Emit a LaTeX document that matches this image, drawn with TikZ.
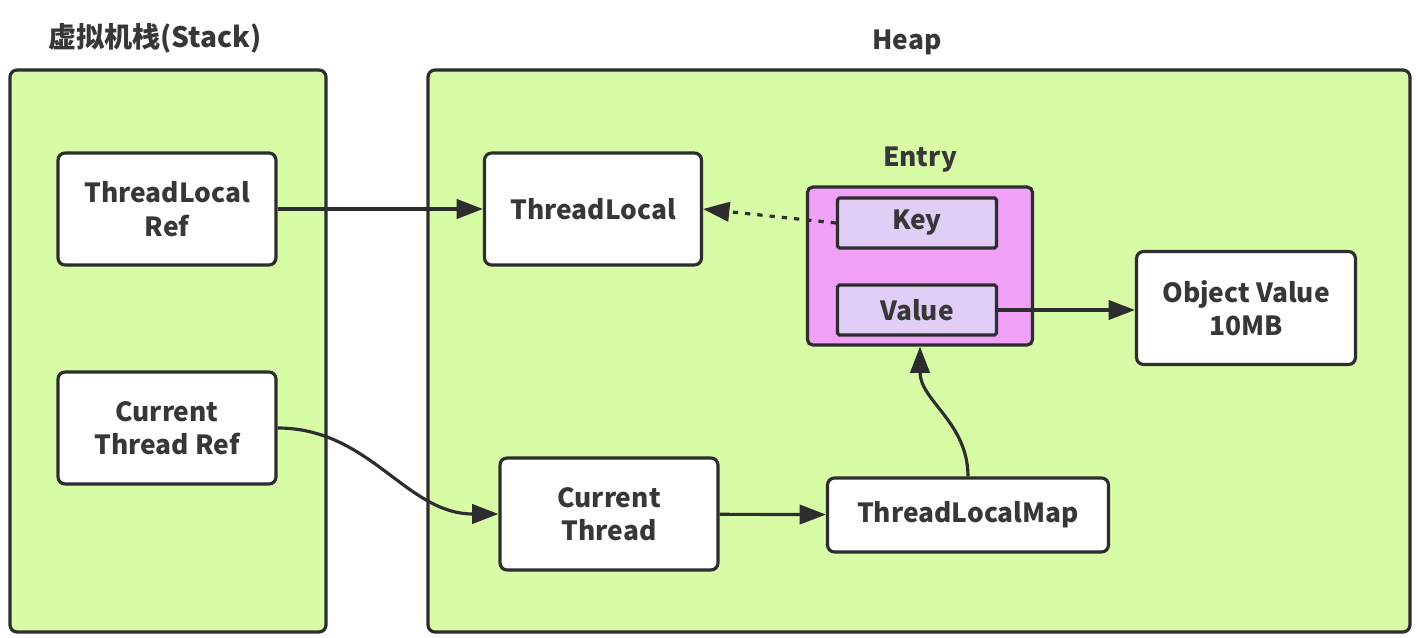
\documentclass[tikz,border=0pt]{standalone}
\usepackage{fontspec}
\setmainfont{Noto Sans CJK SC}
\usepackage{tikz}
\usetikzlibrary{positioning, shapes, arrows.meta}
\definecolor{AreaGreen}{RGB}{216, 251, 166}
\definecolor{EntryPink}{RGB}{240, 160, 246}
\definecolor{SlotLilac}{RGB}{224, 206, 246}
\definecolor{LineGray}{RGB}{45, 45, 45}
\definecolor{TextGray}{RGB}{55, 55, 55}

\tikzset{
  box/.style={draw=LineGray, line width=1.8pt, rounded corners=4pt, fill=white,
    align=center, inner sep=0pt, font=\fontsize{15}{19}\selectfont\bfseries, text=TextGray},
  slot/.style={box, rounded corners=1pt, fill=SlotLilac, minimum width=3.18cm, minimum height=1cm},
  title/.style={font=\fontsize{15}{18}\selectfont\bfseries, text=TextGray},
  link/.style={-{Triangle[length=15pt, width=11pt]}, line width=1.8pt, LineGray}
}

\begin{document}
\begin{tikzpicture}[x=0.02cm, y=-0.02cm]
    \useasboundingbox (0,0) rectangle (1418,638);

    % Stack area
    \node[title, font=\fontsize{16}{19}\selectfont\bfseries] (stacktitle) at (155,38) {虚拟机栈(Stack)};
    \draw[LineGray, line width=1.8pt, rounded corners=4pt, fill=AreaGreen] (10,70) rectangle (326,632);

    \node[box, minimum width=4.36cm, minimum height=2.24cm] (tlref) at (167,209) {ThreadLocal\\Ref};
    \node[box, minimum width=4.36cm, minimum height=2.24cm] (ctref) at (167,428) {Current\\Thread Ref};

    % Heap area
    \node[title] (heaptitle) at (907,42) {Heap};
    \draw[LineGray, line width=1.8pt, rounded corners=4pt, fill=AreaGreen] (428,70) rectangle (1410,632);

    \node[box, minimum width=4.34cm, minimum height=2.24cm] (tl) at (593,209) {ThreadLocal};
    \node[box, minimum width=4.36cm, minimum height=2.24cm] (ct) at (609,514) {Current\\Thread};
    \node[box, minimum width=5.62cm, minimum height=1.48cm] (tlmap) at (968,515) {ThreadLocalMap};
    \node[box, minimum width=4.38cm, minimum height=2.26cm] (obj) at (1246,308) {Object Value\\10MB};

    % Entry
    \node[title] (entrytitle) at (920,160) {Entry};
    \node[box, rounded corners=3pt, fill=EntryPink, minimum width=4.5cm, minimum height=3.16cm] (entry) at (920,266) {};
    \node[slot] (key) at (917,223) {Key};
    \node[slot] (value) at (917,310) {Value};

    % Links
    \draw[link] (tlref) -- (tl);
    \draw[link, dash pattern=on 3pt off 4pt] (key.west) -- (tl.east);
    \draw[link] (value.east) -- (value.east -| obj.west);
    \draw[link] (ctref.east) to[out=0, in=180] (ct.west);
    \draw[link] (ct) -- (tlmap);
    \draw[link] (tlmap.north) to[out=90, in=-90] (entry.south);
\end{tikzpicture}
\end{document}
